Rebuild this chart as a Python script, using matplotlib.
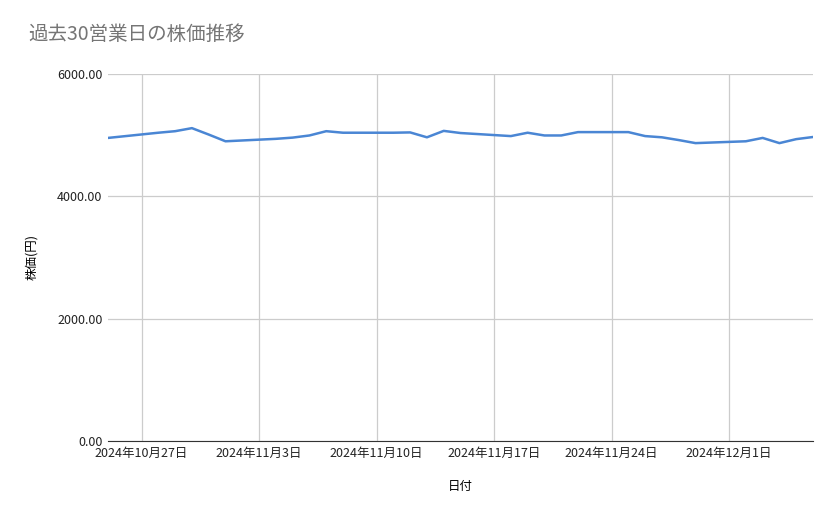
import matplotlib
matplotlib.use("Agg")
import matplotlib.pyplot as plt
import pandas as pd

plt.rcParams['font.family'] = ['Noto Sans CJK JP', 'DejaVu Sans']

dates = ["2024-10-25","2024-10-28","2024-10-29","2024-10-30","2024-10-31","2024-11-01",
         "2024-11-04","2024-11-05","2024-11-06","2024-11-07","2024-11-08",
         "2024-11-11","2024-11-12","2024-11-13","2024-11-14","2024-11-15",
         "2024-11-18","2024-11-19","2024-11-20","2024-11-21","2024-11-22",
         "2024-11-25","2024-11-26","2024-11-27","2024-11-28","2024-11-29",
         "2024-12-02","2024-12-03","2024-12-04","2024-12-05","2024-12-06"]
prices = [4955, 5040, 5065, 5115, 5010, 4900,
          4940, 4960, 4995, 5065, 5040,
          5040, 5045, 4965, 5070, 5035,
          4985, 5040, 4995, 4995, 5050,
          5050, 4985, 4965, 4920, 4870,
          4900, 4955, 4870, 4935, 4970]
yticks = [0, 2000, 4000, 6000]

x = pd.to_datetime(dates)
fig = plt.figure(figsize=(8.39, 5.19), dpi=100)
ax = fig.add_axes([108/839, 1-441/519, (813-108)/839, (441-74)/519])
ax.plot(x, prices, color='#4a86d4', lw=1.8)
ax.set_xlim(x[0], x[-1])
ax.set_ylim(0, 6000)
ax.set_yticks(yticks)
ax.set_yticklabels([f"{v:.2f}" for v in yticks])
ticks = pd.date_range("2024-10-27", "2024-12-06", freq="7D")
ax.set_xticks(ticks)
ax.set_xticklabels([f"{d.year}年{d.month}月{d.day}日" for d in ticks])
ax.grid(True, color='#cccccc', lw=0.9)
ax.set_axisbelow(True)
for s in ['top', 'right', 'left']:
    ax.spines[s].set_visible(False)
ax.spines['bottom'].set_color('#333333')
ax.tick_params(length=0, labelsize=9, colors='#222222', pad=4)
ax.set_xlabel("日付", fontsize=9, labelpad=15)
ax.set_ylabel("株価(円)", fontsize=9, labelpad=14)
fig.text(28/839, 1-40/519, "過去30営業日の株価推移", fontsize=14, color='#757575')
fig.savefig("out.png")
